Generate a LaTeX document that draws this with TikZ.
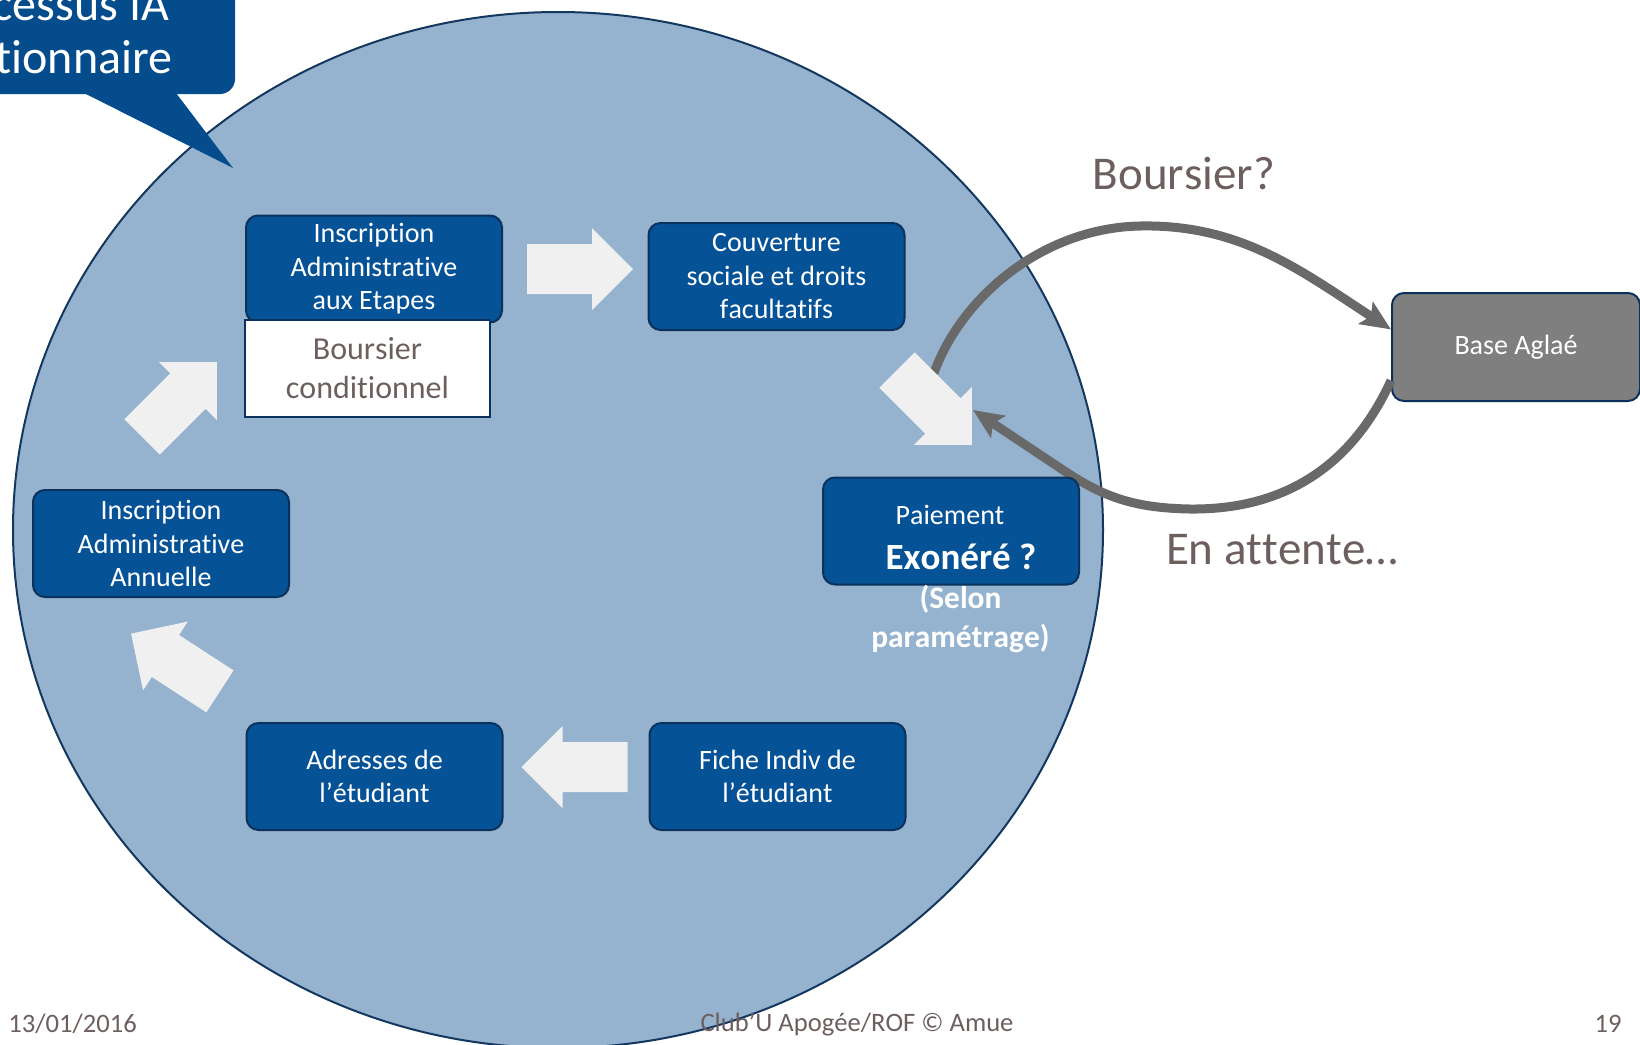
\documentclass[tikz,border=0pt]{standalone}
\usepackage{fontspec}
\setmainfont{Carlito}[Ligatures={NoCommon,NoContextual,NoRequired},
  RawFeature={-liga;-clig;-calt;-rlig;-dlig}, Kerning=Off]
\usetikzlibrary{arrows.meta}

\definecolor{discfill}{RGB}{149,179,207}
\definecolor{discedge}{RGB}{20,55,95}
\definecolor{stepblue}{RGB}{6,82,150}
\definecolor{stepedge}{RGB}{10,50,92}
\definecolor{calloutblue}{RGB}{4,76,140}
\definecolor{textbrown}{RGB}{110,95,95}
\definecolor{arrowwhite}{RGB}{240,240,240}
\definecolor{linkgray}{RGB}{105,105,105}
\definecolor{aglaegray}{RGB}{127,127,127}

\tikzset{
  stepbox/.style={draw=stepedge, line width=1pt, fill=stepblue, rounded corners=6pt,
    minimum width=128pt, minimum height=53.5pt, inner sep=0pt, align=center,
    text=white, font=\fontsize{14}{16.75}\selectfont},
  aglaebox/.style={stepbox, fill=aglaegray, minimum width=124pt, minimum height=54pt},
  condbox/.style={draw=stepedge, line width=1pt, fill=white, minimum width=122.5pt,
    minimum height=48.5pt, inner sep=0pt, align=center, text=textbrown,
    font=\fontsize{16}{19.4}\selectfont},
  biglabel/.style={text=textbrown, font=\fontsize{23.5}{28}\selectfont},
  footer/.style={text=textbrown, inner sep=0pt, font=\fontsize{13.3}{16}\selectfont},
  aglaelink/.style={draw=linkgray, line width=4.5pt,
    -{Stealth[length=15pt, width=13pt, inset=3pt]}},
  fatarrow/.pic={
    \fill[arrowwhite] (-53,-25) -- (12,-25) -- (12,-41) -- (53,0) -- (12,41)
      -- (12,25) -- (-53,25) -- cycle;
  }
}

\begin{document}
\begin{tikzpicture}[x=0.5pt, y=-0.5pt]
  \useasboundingbox (0,0) rectangle (1640,1045);

  % le cycle
  \draw[discedge, line width=1pt, fill=discfill] (558,530)
    ellipse [x radius=272.5pt, y radius=259pt];

  % bulle
  \fill[calloutblue, rounded corners=7.5pt] (-40,-40) rectangle (235,94);
  \fill[calloutblue] (84,93) -- (176,93) -- (233,168) -- cycle;
  \node[anchor=base east, text=white, font=\fontsize{24}{26}\selectfont]
    (proc) at (176,20) {cessus IA};
  \node[anchor=base east, text=white, font=\fontsize{24}{26}\selectfont]
    (gest) at (180,73) {tionnaire};

  % liens vers Aglae
  \node[aglaebox] (aglae) at (1516,347) {Base Aglaé};
  \coordinate (bstart) at (934,373);
  \coordinate (btip) at (973,410);
  \draw[aglaelink] (bstart) .. controls (960,300) and (1040,228) .. (1140,226)
    .. controls (1240,224) and (1300,270) .. (aglae.172);
  \draw[aglaelink] (aglae.195) .. controls (1350,470) and (1280,510) .. (1190,509)
    .. controls (1130,508) and (1100,495) .. (1060,468) -- (btip);
  \node[biglabel] (qbourse) at (1184,173) {Boursier?};
  \node[biglabel] (attente) at (1282,550) {En attente…};

  % fleches du cycle
  \pic at (580,269) {fatarrow};
  \pic[rotate=-45] at (934.5,407.5) {fatarrow};
  \pic[rotate=180] at (574.5,767) {fatarrow};
  \pic[rotate=147] at (175.5,662.5) {fatarrow};
  \pic[rotate=45] at (179.5,399.5) {fatarrow};

  % etapes
  \node[stepbox] (iae) at (374,269) {Inscription\\Administrative\\aux Etapes};
  \node[condbox] (cond) at (367.5,368.5) {Boursier\\conditionnel};
  \node[stepbox] (couv) at (776.5,276.5) {Couverture\\sociale et droits\\facultatifs};
  \node[stepbox] (paie) at (951,531) {};
  \node[text=white, font=\fontsize{14}{16.75}\selectfont] (paiement) at (950,515) {Paiement};
  \node[text=white, font=\bfseries\fontsize{18.5}{22}\selectfont] (exonere) at (961,557)
    {Exonéré ?};
  \node[text=white, align=center, font=\bfseries\fontsize{15.7}{19.5}\selectfont]
    (selon) at (960.5,618.5) {(Selon\\paramétrage)};
  \node[stepbox] (fiche) at (777.5,776.5) {Fiche Indiv de\\l’étudiant};
  \node[stepbox] (adr) at (374.5,776.5) {Adresses de\\l’étudiant};
  \node[stepbox] (iaa) at (161,543.5) {Inscription\\Administrative\\Annuelle};

  % pied de page
  \node[footer, anchor=west] (date) at (8,1024) {13/01/2016};
  \node[footer] (club) at (857,1024) {Club'U Apogée/ROF © Amue};
  \node[footer] (page) at (1608,1024) {19};
\end{tikzpicture}
\end{document}
